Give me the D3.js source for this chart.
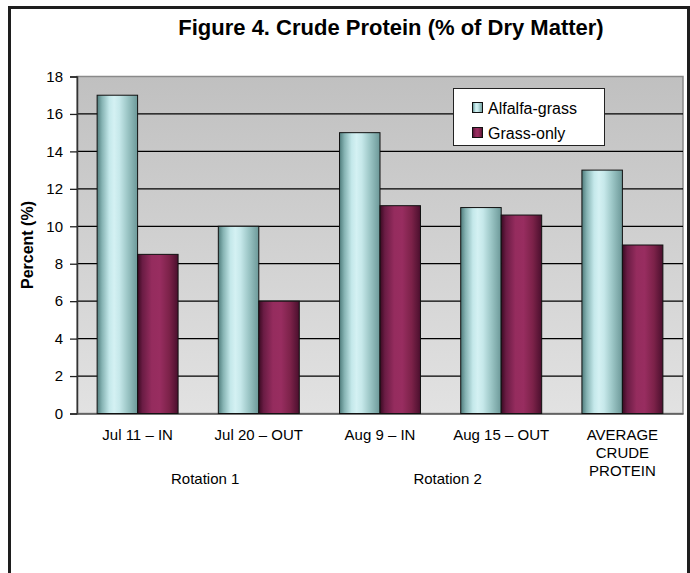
<!DOCTYPE html>
<html><head><meta charset="utf-8">
<script src="https://cdn.jsdelivr.net/npm/d3@7"></script>
<style>
body{margin:0;background:#fff}
svg{display:block}
text{font-family:"Liberation Sans",Arial,Helvetica,sans-serif;fill:#000}
</style>
</head><body>
<svg id="chart" width="690" height="573"></svg>
<script>
const categories = ["Jul 11 – IN","Jul 20 – OUT","Aug 9 – IN","Aug 15 – OUT","AVERAGE CRUDE PROTEIN"];
const categoryLines = [["Jul 11 – IN"],["Jul 20 – OUT"],["Aug 9 – IN"],["Aug 15 – OUT"],["AVERAGE","CRUDE","PROTEIN"]];
const seriesNames = ["Alfalfa-grass","Grass-only"];
const alfalfaGrass = [17, 10, 15, 11, 13];
const grassOnly = [8.5, 6, 11.1, 10.6, 9];
const yTicks = [0, 2, 4, 6, 8, 10, 12, 14, 16, 18];
const rotationLabels = ["Rotation 1", "Rotation 2"];
const rotationMembers = [[0, 1], [2, 3]];
const chartTitle = "Figure 4. Crude Protein (% of Dry Matter)";
const yTitle = "Percent (%)";

const svg = d3.select("#chart");
const plot = {left: 77, right: 683, top: 76.5, bottom: 413.5};

const defs = svg.append("defs");
const bg = defs.append("linearGradient").attr("id","bg").attr("x1",0).attr("y1",0).attr("x2",0).attr("y2",1);
bg.append("stop").attr("offset","0%").attr("stop-color","#c0c0c0");
bg.append("stop").attr("offset","100%").attr("stop-color","#e2e2e2");

function cyl(id, stops){
  const g = defs.append("linearGradient").attr("id",id).attr("x1",0).attr("y1",0).attr("x2",1).attr("y2",0);
  stops.forEach(s => g.append("stop").attr("offset", s[0]).attr("stop-color", s[1]));
}
cyl("gA", [["0%","#4f7c7c"],["12%","#86b3b3"],["30%","#c4e8ea"],["42%","#d4f1f3"],["55%","#c6e8ea"],["75%","#9cc6c6"],["100%","#6c9898"]]);
cyl("gB", [["0%","#3a0a22"],["12%","#6a1c44"],["35%","#952c5e"],["55%","#982d60"],["78%","#7c2249"],["100%","#4a0f2d"]]);
const fills = ["url(#gA)","url(#gB)"];

// outer frame
svg.append("rect").attr("x",9.5).attr("y",7.5).attr("width",679).attr("height",620)
  .attr("fill","#fff").attr("stroke","#1e1e1e").attr("stroke-width",3);

// title
svg.append("text").attr("x",391).attr("y",35).attr("text-anchor","middle")
  .style("font-size","22px").style("font-weight","bold").text(chartTitle);

const y = d3.scaleLinear().domain([0,18]).range([plot.bottom, plot.top]);
const x0 = d3.scaleBand().domain(categories).range([plot.left, plot.right]).paddingInner(0.332).paddingOuter(0.166);
const x1 = d3.scaleBand().domain(seriesNames).range([0, x0.bandwidth()]);

// plot background
svg.append("rect").attr("x",plot.left).attr("y",plot.top).attr("width",plot.right-plot.left)
  .attr("height",plot.bottom-plot.top).attr("fill","url(#bg)").attr("stroke","#8a8a8a").attr("stroke-width",1.5);

// gridlines
svg.append("g").selectAll("line").data(yTicks.filter(v => v>0 && v<18)).join("line")
  .attr("x1",plot.left).attr("x2",plot.right).attr("y1",d=>y(d)).attr("y2",d=>y(d))
  .attr("stroke","#000").attr("stroke-width",1.3);

// y axis
const yAxis = d3.axisLeft(y).tickValues(yTicks).tickSize(7).tickPadding(7).tickFormat(d3.format("d"));
const ya = svg.append("g").attr("transform",`translate(${plot.left},0)`).call(yAxis);
ya.select(".domain").attr("stroke","#333").attr("stroke-width",1.5);
ya.selectAll(".tick line").attr("stroke","#222").attr("stroke-width",1.3);
ya.selectAll(".tick text").style("font-size","15px").attr("fill","#000");

// x axis
const xAxis = d3.axisBottom(x0).tickSize(0).tickFormat("");
const xa = svg.append("g").attr("transform",`translate(0,${plot.bottom})`).call(xAxis);
xa.select(".domain").attr("stroke","#555").attr("stroke-width",1.5);

// bars
const data = categories.map((c,i) => ({cat:c, vals:[alfalfaGrass[i], grassOnly[i]]}));
const groups = svg.append("g").selectAll("g").data(data).join("g")
  .attr("transform", d => `translate(${x0(d.cat)},0)`);
groups.selectAll("rect").data(d => d.vals.map((v,k)=>({k, v}))).join("rect")
  .attr("x", d => x1(seriesNames[d.k]))
  .attr("y", d => y(d.v))
  .attr("width", x1.bandwidth())
  .attr("height", d => y(0) - y(d.v))
  .attr("fill", d => fills[d.k])
  .attr("stroke","#111").attr("stroke-width",1);

// category labels
const labG = svg.append("g");
categories.forEach((c,i) => {
  const cx = x0(c) + x0.bandwidth()/2;
  const t = labG.append("text").attr("text-anchor","middle").style("font-size","15px");
  categoryLines[i].forEach((ln,j) => {
    t.append("tspan").attr("x",cx).attr("y",440 + j*18).text(ln);
  });
});

// rotation labels
rotationLabels.forEach((lab,r) => {
  const m = rotationMembers[r];
  const a = x0(categories[m[0]]) - x0.step()*x0.paddingInner()/2;
  const b = x0(categories[m[m.length-1]]) + x0.bandwidth() + x0.step()*x0.paddingInner()/2;
  svg.append("text").attr("x",(a+b)/2 + 7).attr("y",484).attr("text-anchor","middle")
    .style("font-size","15px").text(lab);
});

// y title
svg.append("text").attr("transform",`translate(33,${(plot.top+plot.bottom)/2}) rotate(-90)`)
  .attr("text-anchor","middle").style("font-size","16px").style("font-weight","bold").text(yTitle);

// legend
const lg = svg.append("g");
lg.append("rect").attr("x",453.5).attr("y",88.5).attr("width",151).attr("height",57)
  .attr("fill","#fff").attr("stroke","#222").attr("stroke-width",1);
seriesNames.forEach((s,k) => {
  const cy = 108 + k*25;
  lg.append("rect").attr("x",472.5).attr("y",cy-5.5).attr("width",10).attr("height",10)
    .attr("fill",fills[k]).attr("stroke","#111").attr("stroke-width",1);
  lg.append("text").attr("x",488).attr("y",cy+6).style("font-size","16px").text(s);
});
</script>
</body></html>
